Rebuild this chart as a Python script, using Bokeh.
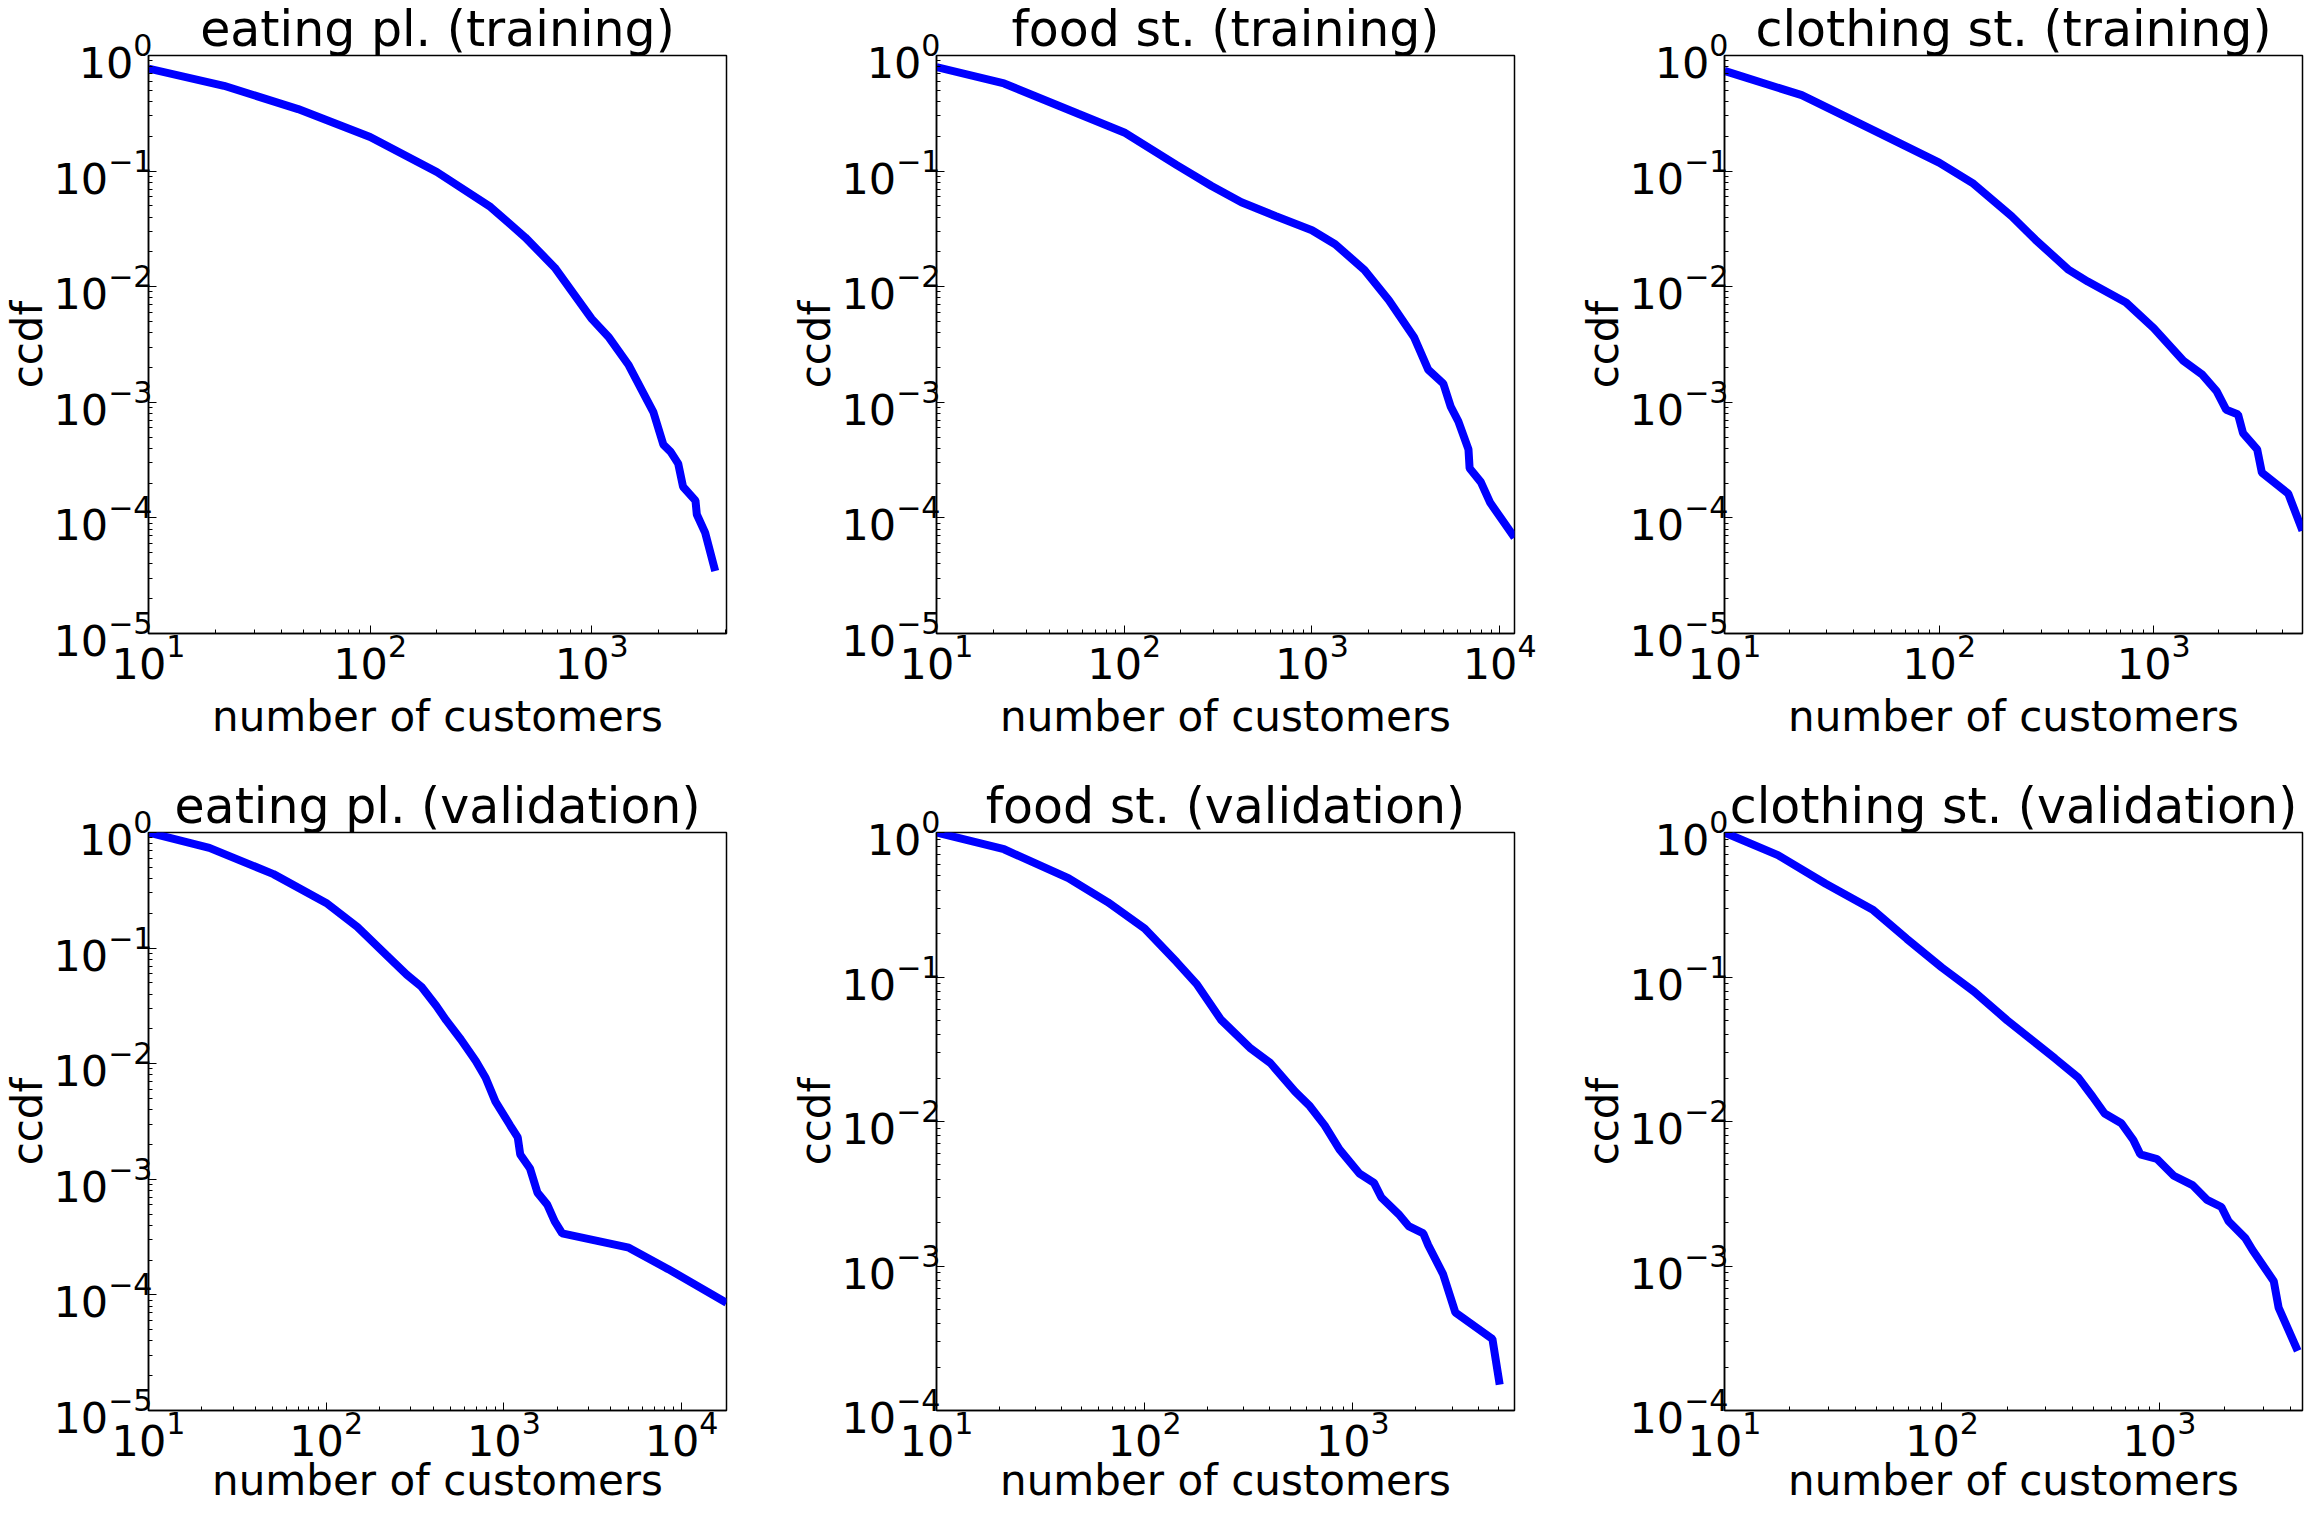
from bokeh.plotting import figure
from bokeh.layouts import column, row
from bokeh.models import Range1d
from bokeh.embed import file_html
from bokeh.resources import INLINE

titles = ["eating pl. (training)", "food st. (training)", "clothing st. (training)",
          "eating pl. (validation)", "food st. (validation)", "clothing st. (validation)"]
x_label = "number of customers"
y_label = "ccdf"

# eating places, training
eat_tr_x = [10, 21.9, 47.3, 100, 200, 349, 501, 681, 1000, 1197, 1469, 1714, 1897, 2104, 2270,
            2455, 2582, 2938, 2979, 3251, 3606]
eat_tr_y = [0.771, 0.547, 0.344, 0.197, 0.0982, 0.049, 0.0267, 0.0146, 0.00527, 0.00363, 0.00209,
            0.00119, 0.000822, 0.00043, 0.000372, 0.000295, 0.000186, 0.000141, 0.000107,
            0.0000741, 0.0000347]
# food stores, training
food_tr_x = [10, 22.9, 56.9, 100, 190.5, 292, 421, 643, 1000, 1330, 1905, 2570, 3508, 4169, 5012,
             5495, 6026, 6823, 6918, 7943, 8913, 11995]
food_tr_y = [0.794, 0.573, 0.313, 0.216, 0.1127, 0.0743, 0.0537, 0.0407, 0.0308, 0.0233, 0.01396,
             0.00764, 0.00363, 0.00191, 0.00145, 0.000912, 0.000684, 0.000392, 0.000269,
             0.000204, 0.000135, 0.0000676]
# clothing stores, training
cloth_tr_x = [10, 22.9, 49.3, 100, 144.5, 217.8, 281, 402, 493, 743, 1000, 1374, 1687, 1963, 2178,
              2472, 2606, 3034, 3192, 4236, 4932]
cloth_tr_y = [0.736, 0.454, 0.2265, 0.1183, 0.0778, 0.0407, 0.0255, 0.01396, 0.01107, 0.0073,
              0.00438, 0.00229, 0.00173, 0.00125, 0.000861, 0.000785, 0.000542, 0.000392,
              0.000246, 0.000162, 0.0000776]
# eating places, validation
eat_va_x = [10, 22.0, 50.5, 100, 149.6, 219.8, 283.8, 343.6, 416.9, 473.2, 572.8, 695, 789, 897,
            1086, 1197, 1236, 1403, 1545, 1754, 1932, 2128, 5047, 8414, 17906]
eat_va_y = [1.0, 0.736, 0.4365, 0.246, 0.1528, 0.0861, 0.0589, 0.0463, 0.0316, 0.0238, 0.0162,
            0.01057, 0.00757, 0.0047, 0.00292, 0.0023, 0.00164, 0.00124, 0.000767, 0.000604,
            0.000433, 0.000341, 0.000256, 0.000167, 0.0000855]
# food stores, validation
food_va_x = [10, 21.1, 43.0, 66.4, 100, 142.6, 177.4, 232.8, 323.6, 401.8, 528.4, 622.3, 732.8,
             863, 1074, 1265, 1371, 1660, 1854, 2183, 2307, 2716, 3112, 4688, 5082]
food_va_y = [1.0, 0.766, 0.483, 0.33, 0.2168, 0.1268, 0.0897, 0.0506, 0.032, 0.0254, 0.0161,
             0.01276, 0.0094, 0.00641, 0.00438, 0.00376, 0.00299, 0.00229, 0.00189, 0.00168,
             0.00139, 0.000879, 0.000476, 0.000313, 0.000151]
# clothing stores, validation
cloth_va_x = [10, 17.6, 29.2, 48.3, 68.9, 100, 140.3, 199.5, 257, 331, 423.6, 493.3, 559.8, 668.3,
              758.6, 816.6, 975, 1164, 1426, 1656, 1928, 2080, 2483, 2679, 3357, 3532, 4325]
cloth_va_y = [1.0, 0.698, 0.4416, 0.2904, 0.1837, 0.1161, 0.0794, 0.0501, 0.037, 0.0273, 0.0201,
              0.01483, 0.01135, 0.00973, 0.00745, 0.00593, 0.0055, 0.00421, 0.00361, 0.00287,
              0.00256, 0.00204, 0.00156, 0.00129, 0.000785, 0.000516, 0.000259]

x_max = [4055, 12000, 4935, 17900, 5986, 4550]
y_min = [1e-5, 1e-5, 1e-5, 1e-5, 1e-4, 1e-4]

series = [(eat_tr_x, eat_tr_y), (food_tr_x, food_tr_y), (cloth_tr_x, cloth_tr_y),
          (eat_va_x, eat_va_y), (food_va_x, food_va_y), (cloth_va_x, cloth_va_y)]

FONT = "DejaVu Sans"


def make(i, width, height, right, bottom, xlab_standoff):
    xs, ys = series[i]
    p = figure(width=width, height=height, x_axis_type="log", y_axis_type="log",
               x_range=Range1d(10, x_max[i]), y_range=Range1d(y_min[i], 1),
               output_backend="svg", toolbar_location=None,
               min_border_left=140, min_border_right=right,
               min_border_top=47, min_border_bottom=bottom)
    p.title.text = titles[i]
    p.title.text_font = FONT
    p.title.text_font_size = "49px"
    p.title.text_font_style = "normal"
    p.title.text_color = "black"
    p.title.align = "center"
    p.title.standoff = -4
    p.xgrid.visible = False
    p.ygrid.visible = False
    p.outline_line_color = "black"
    p.outline_line_width = 1.5
    p.background_fill_color = "white"
    p.border_fill_color = "white"
    p.line(xs, ys, line_color="#0000ff", line_width=8)

    for ax in (p.xaxis[0], p.yaxis[0]):
        ax.major_label_text_font = FONT
        ax.major_label_text_font_size = "43px"
        ax.major_label_text_color = "black"
        ax.axis_label_text_font = FONT
        ax.axis_label_text_font_size = "42px"
        ax.axis_label_text_font_style = "normal"
        ax.axis_label_text_color = "black"
        ax.major_tick_in = 8
        ax.major_tick_out = 0
        ax.minor_tick_in = 4
        ax.minor_tick_out = 0
        ax.major_tick_line_color = "black"
        ax.minor_tick_line_color = "black"
        ax.axis_line_color = "black"
        ax.axis_line_width = 1.5
    p.xaxis[0].axis_label = x_label
    p.yaxis[0].axis_label = y_label
    p.xaxis[0].major_label_standoff = 0
    p.yaxis[0].major_label_standoff = -4
    p.xaxis[0].axis_label_standoff = xlab_standoff
    p.yaxis[0].axis_label_standoff = -2
    return p


plots = []
for i in range(6):
    col = i % 3
    r = i // 3
    width = 730 if col == 2 else 788
    right = 4 if col == 2 else 62
    height = 777 if r == 0 else 736
    bottom = 144 if r == 0 else 103
    xls = 10 if r == 0 else -3
    plots.append(make(i, width, height, right, bottom, xls))

layout = column(row(*plots[:3], spacing=0), row(*plots[3:], spacing=0), spacing=0)

open("out.html", "w").write(file_html(layout, INLINE))
